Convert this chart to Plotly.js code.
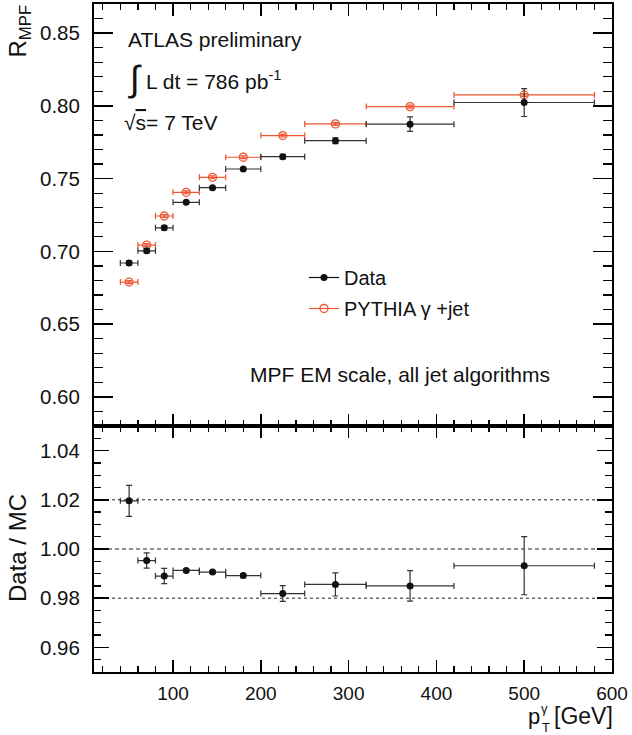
<!DOCTYPE html>
<html>
<head>
<meta charset="utf-8">
<script src="https://cdn.plot.ly/plotly-3.0.1.min.js"></script>
<style>html,body{margin:0;padding:0;background:#fff;}#chart{width:632px;height:735px;}</style>
</head>
<body>
<div id="chart"></div>
<script>
// ---- data ----
const ptCenters = [50, 70, 90, 115, 145, 180, 225, 285, 370, 500];
const ptHalfWidth = [10, 10, 10, 15, 15, 20, 25, 35, 50, 80];
const rData = [0.692, 0.7004, 0.7162, 0.7337, 0.7438, 0.7566, 0.7651, 0.7761, 0.7874, 0.8023];
const rDataErr = [0.0015, 0.0015, 0.0015, 0.0005, 0.0005, 0.0008, 0.0015, 0.002, 0.005, 0.0096];
const rMC = [0.6789, 0.7043, 0.7243, 0.7406, 0.7509, 0.7647, 0.7796, 0.7876, 0.7995, 0.8075];
const rMCErr = [0.001, 0.001, 0.001, 0.001, 0.001, 0.001, 0.001, 0.001, 0.001, 0.001];
const ratio = [1.0196, 0.9953, 0.9890, 0.9913, 0.9906, 0.9892, 0.9819, 0.9856, 0.9850, 0.9932];
const ratioErr = [0.0063, 0.0031, 0.0031, 0.0005, 0.0005, 0.0008, 0.0032, 0.0047, 0.0062, 0.0118];
const refLines = [1.02, 1.00, 0.98];

// ---- geometry helpers (for text placement only) ----
const W = 632, H = 735, ML = 94, MR = 20, MT = 4, MB = 63;
const PW = W - ML - MR, PH = H - MT - MB;
const px = v => (v - ML) / PW;
const py = v => (H - MB - v) / PH;
const split = (672 - 426) / PH;

const FONT = 'Liberation Sans, Arial, Helvetica, sans-serif';
const BLACK = '#111111';
const RED = '#ec5530';

const traces = [
  {
    x: ptCenters, y: rMC, xaxis: 'x', yaxis: 'y', type: 'scatter', mode: 'markers',
    showlegend: false,
    marker: {symbol: 'circle-open', size: 8, color: RED, line: {width: 1.3, color: RED}},
    error_x: {type: 'data', array: ptHalfWidth, color: RED, thickness: 1.2, width: 3},
    error_y: {type: 'data', array: rMCErr, color: RED, thickness: 1.2, width: 3}
  },
  {
    x: ptCenters, y: rData, xaxis: 'x', yaxis: 'y', type: 'scatter', mode: 'markers',
    showlegend: false,
    marker: {symbol: 'circle', size: 7, color: BLACK},
    error_x: {type: 'data', array: ptHalfWidth, color: '#333333', thickness: 1.2, width: 3},
    error_y: {type: 'data', array: rDataErr, color: '#333333', thickness: 1.2, width: 3}
  },
  {
    x: ptCenters, y: ratio, xaxis: 'x2', yaxis: 'y2', type: 'scatter', mode: 'markers',
    showlegend: false,
    marker: {symbol: 'circle', size: 7, color: BLACK},
    error_x: {type: 'data', array: ptHalfWidth, color: '#333333', thickness: 1.2, width: 3},
    error_y: {type: 'data', array: ratioErr, color: '#333333', thickness: 1.2, width: 3}
  },
  // legend entries
  {
    x: [null], y: [null], xaxis: 'x', yaxis: 'y', type: 'scatter', mode: 'lines+markers',
    name: 'Data', legendgroup: 'a',
    line: {color: BLACK, width: 1.2}, marker: {symbol: 'circle', size: 7, color: BLACK}
  },
  {
    x: [null], y: [null], xaxis: 'x', yaxis: 'y', type: 'scatter', mode: 'lines+markers',
    name: 'PYTHIA γ +jet', legendgroup: 'b',
    line: {color: RED, width: 1.2},
    marker: {symbol: 'circle-open', size: 8, color: RED, line: {width: 1.3, color: RED}}
  }
];

const commonX = {
  range: [10, 600], tick0: 0, dtick: 100, ticks: 'inside', ticklen: 12, tickwidth: 1.5,
  tickcolor: '#000', showline: true, linecolor: '#000', linewidth: 2, mirror: 'ticks',
  showgrid: false, zeroline: false,
  minor: {dtick: 20, ticks: 'inside', ticklen: 6, tickwidth: 1.2, tickcolor: '#000', showgrid: false}
};

const shapes = refLines.map(v => ({
  type: 'line', xref: 'x2', yref: 'y2', x0: 10, x1: 600, y0: v, y1: v,
  line: {color: '#222', width: 1, dash: v === 1.00 ? '4px,3px' : 'dot'},
  layer: 'below'
}));

const ann = (text, x, y, size, opts) => Object.assign({
  text: text, xref: 'paper', yref: 'paper', x: px(x), y: py(y), showarrow: false,
  xanchor: 'left', yanchor: 'middle', borderpad: 0, font: {family: FONT, size: size, color: '#111'}
}, opts || {});

const layout = {
  width: W, height: H,
  margin: {l: ML, r: MR, t: MT, b: MB},
  paper_bgcolor: '#fff', plot_bgcolor: '#fff',
  font: {family: FONT, color: '#111'},
  xaxis: Object.assign({}, commonX, {anchor: 'y', showticklabels: false}),
  yaxis: {
    domain: [split, 1], anchor: 'x', range: [0.58, 0.87], tick0: 0.6, dtick: 0.05,
    tickformat: '.2f', ticks: 'inside', ticklen: 19, tickwidth: 1.5, tickcolor: '#000',
    showline: true, linecolor: '#000', linewidth: 2, mirror: 'ticks', showgrid: false, zeroline: false,
    tickfont: {family: FONT, size: 20.5, color: '#111'}, ticklabelstandoff: 8,
    minor: {dtick: 0.01, ticks: 'inside', ticklen: 9, tickwidth: 1.2, tickcolor: '#000', showgrid: false}
  },
  xaxis2: Object.assign({}, commonX, {
    anchor: 'y2', showticklabels: true,
    tickfont: {family: FONT, size: 19, color: '#111'}, ticklabelstandoff: 3
  }),
  yaxis2: {
    domain: [0, split], anchor: 'x2', range: [0.95, 1.05], tick0: 0.96, dtick: 0.02,
    tickformat: '.2f', ticks: 'inside', ticklen: 15, tickwidth: 1.5, tickcolor: '#000',
    showline: true, linecolor: '#000', linewidth: 2, mirror: 'ticks', showgrid: false, zeroline: false,
    tickfont: {family: FONT, size: 20.5, color: '#111'}, ticklabelstandoff: 8,
    minor: {dtick: 0.005, ticks: 'inside', ticklen: 7, tickwidth: 1.2, tickcolor: '#000', showgrid: false}
  },
  showlegend: true,
  legend: {
    x: px(304), y: py(258), xanchor: 'left', yanchor: 'top',
    bgcolor: 'rgba(0,0,0,0)', borderwidth: 0, traceorder: 'grouped', tracegroupgap: 2,
    font: {family: FONT, size: 20, color: '#111'}
  },
  shapes: shapes,
  annotations: [
    ann('ATLAS preliminary', 127, 39, 21),
    ann('∫', 127, 78, 36),
    ann('L dt = 786 pb<sup>-1</sup>', 145, 80, 21),
    ann('√<span style="text-decoration:overline">s</span>= 7 TeV', 123, 123, 21),
    ann('MPF EM scale, all jet algorithms', 249, 374, 21),
    // axis titles
    ann('R<sub>MPF</sub>', 19, 4, 24, {textangle: -90, xanchor: 'center', yanchor: 'top'}),
    ann('Data / MC', 17, 548, 24, {textangle: -90, xanchor: 'center', yanchor: 'middle'}),
    ann('p', 527, 716, 22),
    ann('γ', 540, 708, 13),
    ann('T', 541, 727, 13),
    ann('[GeV]', 553, 716, 23)
  ]
};

Plotly.newPlot('chart', traces, layout, {staticPlot: true, displayModeBar: false});
</script>
</body>
</html>
